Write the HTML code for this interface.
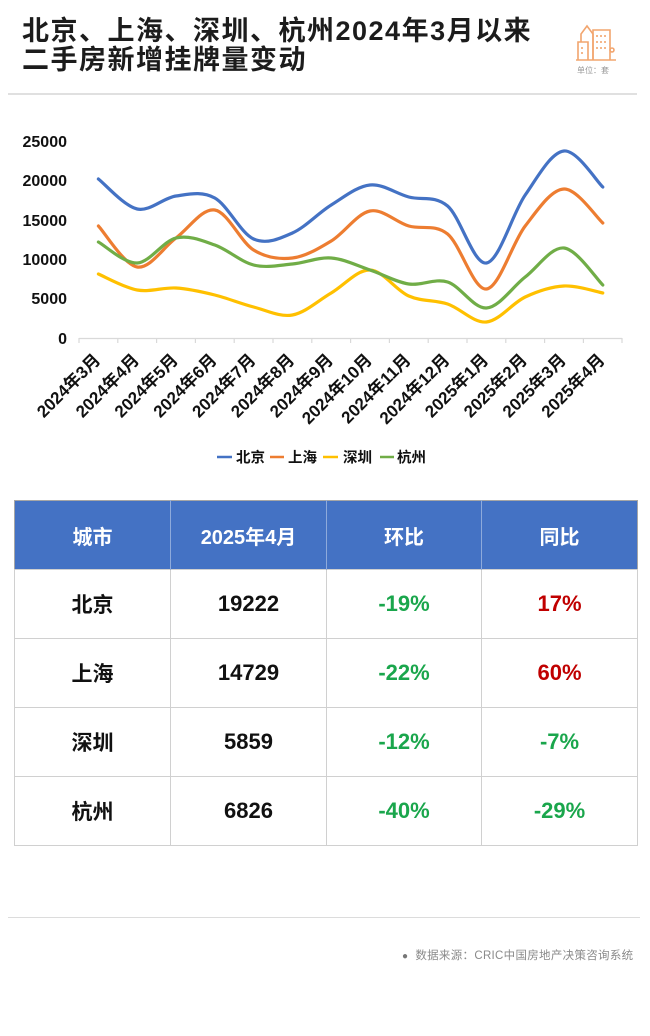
<!DOCTYPE html>
<html><head><meta charset="utf-8">
<style>
html,body{margin:0;padding:0;background:#fff;}
body{width:650px;height:1036px;position:relative;overflow:hidden;font-family:"Liberation Sans","Noto Sans CJK SC",sans-serif;}
.title{position:absolute;left:22px;top:17px;font-size:27px;font-weight:bold;line-height:29px;letter-spacing:1.5px;color:#1c1c1c;white-space:nowrap;}
.unit{position:absolute;left:577px;top:65px;font-size:8px;color:#999;white-space:nowrap;}
.rule{position:absolute;height:1px;background:#d9d9d9;}
table{position:absolute;left:14px;top:500px;width:623px;border-collapse:collapse;table-layout:fixed;border:1px solid #a6a6a6;}
td,th{text-align:center;vertical-align:middle;font-weight:bold;padding:0;}
th{background:#4472c4;color:#fff;font-size:20px;height:68px;border-left:1px solid #8eaadb;}
th:first-child{border-left:none;}
td{font-size:21px;color:#111;height:68px;border:1px solid #d0d0d0;}
.g{color:#1aa64c;font-size:22px;}
.r{color:#c00000;font-size:22px;}
.n{font-size:22px;}
.foot{position:absolute;left:402px;top:947px;font-size:11.5px;color:#8a8a8a;white-space:nowrap;letter-spacing:0.3px;}
</style></head>
<body>
<div class="title">北京、上海、深圳、杭州2024年3月以来<br>二手房新增挂牌量变动</div>

<svg style="position:absolute;left:574px;top:20px" width="44" height="44" viewBox="0 0 44 44">
  <g fill="none" stroke="#f2a56e" stroke-width="1.6">
    <path d="M4 40 V22 H14 V40"/>
    <path d="M7 22 V14 L13 6 L19 14 V40"/>
    <path d="M19 40 V10 H36 V40"/>
    <path d="M2 40 H42"/>
    <line x1="23" y1="15" x2="23" y2="17"/><line x1="27" y1="15" x2="27" y2="17"/><line x1="31" y1="15" x2="31" y2="17"/>
    <line x1="23" y1="21" x2="23" y2="23"/><line x1="27" y1="21" x2="27" y2="23"/><line x1="31" y1="21" x2="31" y2="23"/>
    <line x1="23" y1="27" x2="23" y2="29"/><line x1="27" y1="27" x2="27" y2="29"/><line x1="31" y1="27" x2="31" y2="29"/>
    <line x1="8" y1="27" x2="8" y2="29"/><line x1="8" y1="32" x2="8" y2="34"/>
    <circle cx="38" cy="30" r="2"/>
  </g>
</svg>
<div class="unit">单位：套</div>
<div class="rule" style="left:8px;top:93px;width:629px;height:2px;background:#e0e0e0"></div>

<svg style="position:absolute;left:0;top:0" width="650" height="480" viewBox="0 0 650 480">
  <g font-family="Liberation Sans, Noto Sans CJK SC, sans-serif" font-weight="bold" font-size="16" fill="#111" text-anchor="end">
    <text x="67" y="147">25000</text>
    <text x="67" y="186">20000</text>
    <text x="67" y="226">15000</text>
    <text x="67" y="265">10000</text>
    <text x="67" y="304">5000</text>
    <text x="67" y="344">0</text>
  </g>
  <g stroke="#d9d9d9" stroke-width="1.2">
    <line x1="79" y1="338.5" x2="622" y2="338.5"/>
    <line x1="79" y1="338" x2="79" y2="343"/><line x1="117.8" y1="338" x2="117.8" y2="343"/><line x1="156.6" y1="338" x2="156.6" y2="343"/><line x1="195.4" y1="338" x2="195.4" y2="343"/><line x1="234.2" y1="338" x2="234.2" y2="343"/><line x1="273" y1="338" x2="273" y2="343"/><line x1="311.8" y1="338" x2="311.8" y2="343"/><line x1="350.6" y1="338" x2="350.6" y2="343"/><line x1="389.4" y1="338" x2="389.4" y2="343"/><line x1="428.2" y1="338" x2="428.2" y2="343"/><line x1="467" y1="338" x2="467" y2="343"/><line x1="505.8" y1="338" x2="505.8" y2="343"/><line x1="544.6" y1="338" x2="544.6" y2="343"/><line x1="583.4" y1="338" x2="583.4" y2="343"/><line x1="622" y1="338" x2="622" y2="343"/>
  </g>
  <g fill="none" stroke-width="3.2" stroke-linecap="round" stroke-linejoin="round">
    <path stroke="#4472c4" d="M98.4,179 C104.9,184 124.3,206.2 137.2,209 S163.1,197.8 176,196 S201.9,190.8 214.8,198 S240.7,233.2 253.6,239 S279.5,238.7 292.4,233 S318.3,213 331.2,205 S357.1,186.3 370,185 S395.9,193.5 408.8,197 S434.7,195 447.6,206 S473.5,264.8 486.4,263 S512.3,213.7 525.2,195 S551.1,152.3 564,151 S596.3,181 602.8,187"/>
    <path stroke="#ed7d31" d="M98.4,226 C104.9,232.8 124.3,265 137.2,267 S163.1,247.5 176,238 S201.9,208 214.8,210 S240.7,242 253.6,250 S279.5,259.5 292.4,258 S318.3,248.8 331.2,241 S357.1,213.5 370,211 S395.9,222.2 408.8,226 S434.7,223.5 447.6,234 S473.5,290.3 486.4,289 S512.3,242.7 525.2,226 S551.1,189.5 564,189 S596.3,217.3 602.8,223"/>
    <path stroke="#ffc000" d="M98.4,274 C104.9,276.7 124.3,287.7 137.2,290 S163.1,287.2 176,288 S201.9,291.8 214.8,295 S240.7,303.7 253.6,307 S279.5,317.3 292.4,315 S318.3,300.5 331.2,293 S357.1,269.5 370,270 S395.9,290.3 408.8,296 S434.7,299.7 447.6,304 S473.5,323.2 486.4,322 S512.3,303 525.2,297 S551.1,286.7 564,286 S596.3,291.8 602.8,293"/>
    <path stroke="#70ad47" d="M98.4,242 C104.9,245.5 124.3,263.7 137.2,263 S163.1,241 176,238 S201.9,240.5 214.8,245 S240.7,261.8 253.6,265 S279.5,265.2 292.4,264 S318.3,257 331.2,258 S357.1,265.7 370,270 S395.9,282 408.8,284 S434.7,278 447.6,282 S473.5,308.8 486.4,308 S512.3,287 525.2,277 S551.1,246.7 564,248 S596.3,278.8 602.8,285"/>
  </g>
  <g font-family="Liberation Sans, Noto Sans CJK SC, sans-serif" font-weight="bold" font-size="17" fill="#111" text-anchor="end">
    <text transform="translate(101.4,361) rotate(-45)">2024年3月</text>
    <text transform="translate(140.2,361) rotate(-45)">2024年4月</text>
    <text transform="translate(179,361) rotate(-45)">2024年5月</text>
    <text transform="translate(217.8,361) rotate(-45)">2024年6月</text>
    <text transform="translate(256.6,361) rotate(-45)">2024年7月</text>
    <text transform="translate(295.4,361) rotate(-45)">2024年8月</text>
    <text transform="translate(334.2,361) rotate(-45)">2024年9月</text>
    <text transform="translate(373,361) rotate(-45)">2024年10月</text>
    <text transform="translate(411.8,361) rotate(-45)">2024年11月</text>
    <text transform="translate(450.6,361) rotate(-45)">2024年12月</text>
    <text transform="translate(489.4,361) rotate(-45)">2025年1月</text>
    <text transform="translate(528.2,361) rotate(-45)">2025年2月</text>
    <text transform="translate(567,361) rotate(-45)">2025年3月</text>
    <text transform="translate(605.8,361) rotate(-45)">2025年4月</text>
  </g>
  <g stroke-width="2.5">
    <line x1="217" y1="457" x2="232" y2="457" stroke="#4472c4"/>
    <line x1="270" y1="457" x2="284" y2="457" stroke="#ed7d31"/>
    <line x1="323" y1="457" x2="338" y2="457" stroke="#ffc000"/>
    <line x1="380" y1="457" x2="394" y2="457" stroke="#70ad47"/>
  </g>
  <g font-family="Liberation Sans, Noto Sans CJK SC, sans-serif" font-weight="bold" font-size="14.5" fill="#111">
    <text x="236" y="462.5">北京</text>
    <text x="288" y="462.5">上海</text>
    <text x="343" y="462.5">深圳</text>
    <text x="397" y="462.5">杭州</text>
  </g>
</svg>

<table>
  <colgroup><col style="width:156px"><col style="width:156px"><col style="width:155px"><col style="width:156px"></colgroup>
  <tr><th>城市</th><th>2025年4月</th><th>环比</th><th>同比</th></tr>
  <tr><td>北京</td><td class="n">19222</td><td class="g">-19%</td><td class="r">17%</td></tr>
  <tr><td>上海</td><td class="n">14729</td><td class="g">-22%</td><td class="r">60%</td></tr>
  <tr><td>深圳</td><td class="n">5859</td><td class="g">-12%</td><td class="g">-7%</td></tr>
  <tr><td>杭州</td><td class="n">6826</td><td class="g">-40%</td><td class="g">-29%</td></tr>
</table>

<div class="rule" style="left:8px;top:917px;width:632px;background:#dcdcdc"></div>
<div class="foot"><span style="font-size:10px;color:#777">●</span>&nbsp; 数据来源：CRIC中国房地产决策咨询系统</div>
</body></html>
